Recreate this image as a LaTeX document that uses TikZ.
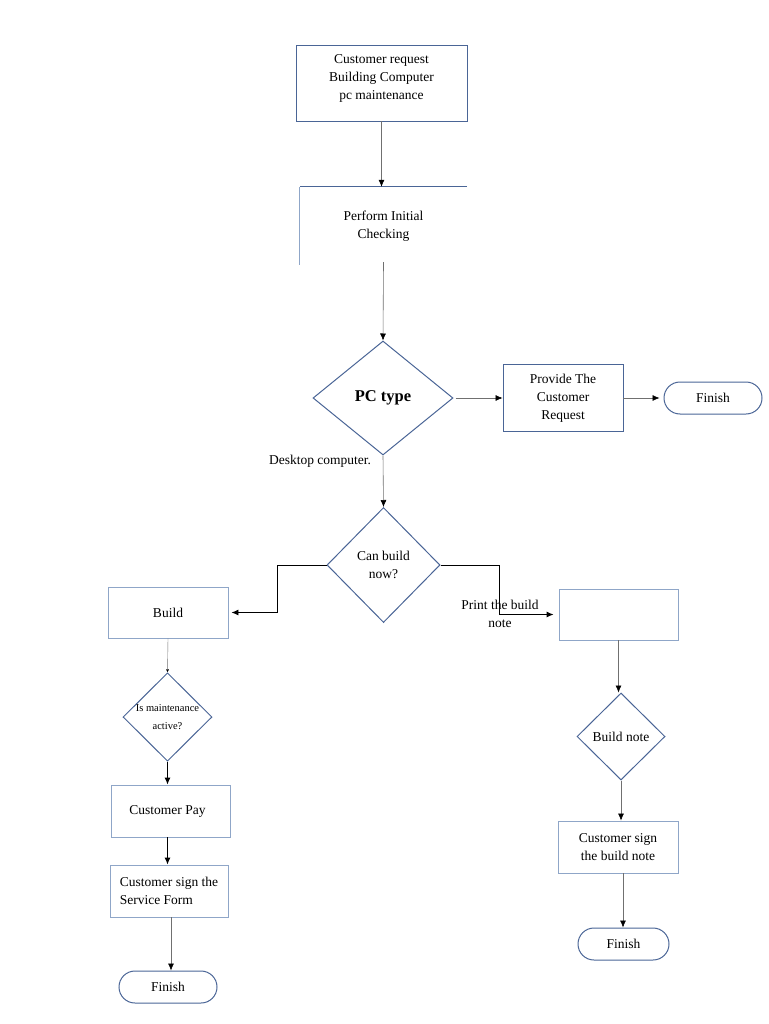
\documentclass[tikz,border=0pt]{standalone}
\usepackage{fontspec}
\setmainfont{Liberation Serif}
\usetikzlibrary{arrows.meta,shapes.geometric,calc}
\definecolor{edgeblue}{HTML}{4A6596}
\definecolor{lightblue}{HTML}{8FA6C8}
\definecolor{linegray}{HTML}{707070}
\tikzset{
  box/.style={draw=#1,line width=0.9pt,rectangle,inner sep=2pt,align=center},
  box/.default=lightblue,
  decision/.style={draw=edgeblue,line width=1pt,diamond,inner sep=0pt,align=center},
  terminal/.style={draw=edgeblue,line width=1pt,rectangle,rounded corners=16pt,minimum width=#1,minimum height=32pt},
  arr/.style={linegray,line width=0.6pt,-{Latex[black,length=7pt,width=6pt]}},
  barr/.style={black,line width=0.9pt,-{Latex[length=7pt,width=6pt]}},
}
\begin{document}
\begin{tikzpicture}[x=1pt,y=-1pt,font=\fontsize{13.5}{18}\selectfont]
  \useasboundingbox (0,0) rectangle (768,1024);
  % top part
  \node[box=edgeblue,minimum width=171,minimum height=76] (req) at (381.5,83)
    {Customer request\\Building Computer\\pc maintenance\\[-6pt]};
  \node[align=center,minimum width=167,minimum height=78] (chk) at (383.5,226) {Perform Initial\\Checking};
  \draw[edgeblue,line width=0.9pt] (chk.north east) -- (chk.north west);
  \draw[lightblue,line width=0.9pt] (chk.north west) -- (chk.south west);
  \node[decision,minimum width=140,minimum height=114] (pc) at (383,398)
    {\fontsize{16.5}{20}\selectfont\bfseries PC type};
  \node[box=edgeblue,minimum width=120,minimum height=67] (prov) at (563,398)
    {Provide The\\Customer\\Request};
  \node[terminal=98] (fin1) at (713,398) {Finish};
  \node (desk) at (320,461) {Desktop computer.};
  \draw[arr] (req.south) -- (req.south |- chk.north);
  \draw[arr] ([yshift=3]chk.south) -- (pc.north);
  \draw[arr] ([xshift=2]pc.east) -- (prov.west);
  \draw[arr] (prov.east) -- ([xshift=-4]fin1.west);
  % second decision
  \node[decision,minimum width=113,minimum height=115] (can) at (383.5,565) {Can build\\now?};
  \draw[arr] (pc.south) -- (can.north);
  \node[box,minimum width=120,minimum height=51] (build) at (168,612.5) {Build};
  \node[box,minimum width=119,minimum height=51] (note) at (618.5,614.5) {};
  \draw[barr,shorten >=3pt] (can.west) -| ($(can.west)!.5!(build.east)$) |- (build.east);
  \draw[barr,shorten >=5pt] (can.east) -| ($(can.east)!.5!(note.west)$) |- (note.west);
  \node[align=center] (print) at (500,614) {Print the build\\note};
  % left column
  \node[decision,minimum width=89,minimum height=86] (maint) at (167.5,717)
    {\fontsize{10.5}{14}\selectfont Is maintenance\\\fontsize{10.5}{14}\selectfont active?};
  \node[box,minimum width=119,minimum height=52] (pay) at (170.5,811) {Customer Pay\hspace*{6pt}};
  \node[box,minimum width=118,minimum height=52,align=left] (form) at (169,891)
    {Customer sign the\\Service Form};
  \node[terminal=98] (fin2) at (168,987) {Finish};
  \draw[linegray,line width=0.4pt,-{Latex[black,length=3pt,width=3pt]}] (build.south) -- (maint.north);
  \draw[barr] (maint.south) -- (maint.south |- pay.north);
  \draw[barr] (pay.south -| maint.south) -- (maint.south |- form.north);
  \draw[arr] ([xshift=2]form.south) -- ([xshift=3]fin2.north);
  % right column
  \node[decision,minimum width=88,minimum height=87] (bnote) at (621,736.5) {Build note};
  \node[box,minimum width=120,minimum height=52] (sign) at (618,847) {Customer sign\\the build note};
  \node[terminal=91] (fin3) at (623.5,944) {Finish};
  \draw[arr] (note.south) -- (note.south |- bnote.north);
  \draw[arr] (bnote.south) -- (bnote.south |- sign.north);
  \draw[arr] ([xshift=5]sign.south) -- ([xshift=5]sign.south |- fin3.north);
\end{tikzpicture}
\end{document}
